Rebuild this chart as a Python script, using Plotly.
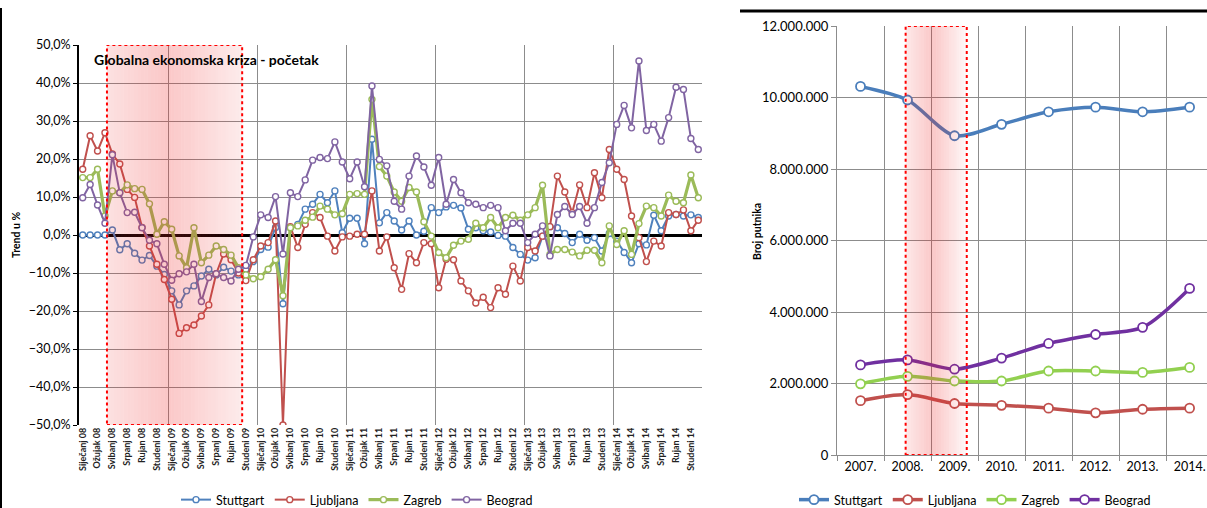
import plotly.graph_objects as go

# ---------------- DATA ----------------
month_names = ["Siječanj", "Veljača", "Ožujak", "Travanj", "Svibanj", "Lipanj",
               "Srpanj", "Kolovoz", "Rujan", "Listopad", "Studeni", "Prosinac"]
year_suffix = ["08", "09", "10", "11", "12", "13", "14"]
month_labels = [f"{m} {y}" for y in year_suffix for m in month_names]

stuttgart_trend = [
    0, 0, 0, 0, 1.3, -3.9, -2.3, -4.8, -6.6, -5.4, -8.2, -10.4,
    -14.7, -18.4, -14.7, -13.4, -10.8, -9.0, -10.5, -8.5, -9.5, -10.5, -9.0, -7.0,
    -3.8, -3.2, 2.0, -18.1, 1.9, 2.8, 6.8, 8.1, 10.7, 8.5, 11.6, 0.6,
    4.4, 4.4, -2.3, 25.2, 3.2, 5.9, 3.7, 1.3, 3.7, 0.0, 1.0, 7.2,
    5.9, 7.4, 7.8, 7.1, 1.5, 1.9, 1.1, 0.8, -0.1, -0.3, -3.3, -5.1,
    -6.6, -6.0, -0.3, 2.2, 1.9, 0.4, -2.0, 0.2, -1.4, -0.7, -4.2, 0.4,
    -1.6, -4.6, -7.3, -2.3, -2.6, 5.2, 1.1, 5.0, 5.4, 5.0, 5.3, 4.6,
]
ljubljana_trend = [
    17.3, 26.1, 22.1, 26.9, 21.3, 18.7, 12.0, 9.9, 2.0, -2.9, -7.7, -11.7,
    -16.9, -25.9, -24.4, -23.7, -21.3, -18.4, -10.2, -5.0, -6.5, -10.0, -12.0, -6.5,
    -2.9, -2.0, 3.7, -50.0, 2.2, -3.3, 2.8, 5.9, 4.6, -0.3, -4.2, -0.5,
    -0.3, 0.2, 0.2, 11.6, -4.2, -0.5, -8.6, -14.3, -4.9, -7.3, -2.0, -2.3,
    -13.9, -6.4, -6.5, -12.1, -14.7, -17.9, -16.4, -19.1, -13.9, -15.6, -8.2, -12.1,
    -3.3, -4.2, -0.3, 2.2, 15.5, 11.3, 5.9, 13.2, 7.2, 16.4, 9.8, 22.5,
    17.3, 14.6, 5.0, -0.7, -7.0, -1.6, -2.9, 5.9, 5.4, 6.6, 1.1, 3.9,
]
zagreb_trend = [
    15.1, 15.1, 17.3, 5.0, 11.6, 11.1, 13.2, 12.2, 12.0, 8.2, 0.2, 3.5,
    1.5, -5.5, -8.6, 1.9, -7.3, -5.3, -2.9, -3.8, -5.3, -8.6, -10.5, -11.5,
    -11.0, -9.0, -6.5, -16.0, 1.9, 2.4, 3.9, 4.7, 7.6, 6.8, 5.3, 5.6,
    10.7, 10.9, 10.7, 35.7, 18.0, 15.5, 11.3, 8.9, 12.5, 11.3, 3.5, -0.3,
    -4.6, -6.0, -2.7, -1.6, -1.1, 3.1, 1.9, 4.6, 1.9, 4.6, 5.2, 3.9,
    5.3, 7.2, 13.1, -5.1, -3.8, -3.8, -4.5, -5.5, -4.0, -4.0, -7.3, 2.4,
    -2.5, 1.1, -5.1, 3.0, 7.6, 7.2, 5.0, 10.5, 8.9, 8.5, 15.8, 9.8,
]
beograd_trend = [
    9.8, 13.3, 7.9, 3.1, 21.1, 11.1, 5.9, 6.0, 1.9, -1.4, -2.3, -7.7,
    -11.9, -10.2, -9.7, -7.7, -17.5, -11.2, -10.2, -11.2, -12.1, -9.0, -8.0, -0.5,
    5.3, 4.6, 10.1, -5.0, 11.1, 10.1, 14.5, 19.7, 20.4, 20.1, 24.5, 19.2,
    14.8, 19.2, 12.7, 39.2, 19.9, 18.2, 8.9, 6.8, 15.5, 20.8, 17.9, 13.1,
    20.4, 8.1, 14.6, 11.1, 8.5, 8.1, 7.2, 7.8, 7.2, 1.1, 3.1, 3.1,
    -2.0, 0.2, 2.4, -5.5, 5.4, 7.5, 5.4, 7.5, 3.1, 7.2, 13.8, 19.0,
    29.1, 34.1, 28.2, 45.8, 27.5, 29.1, 24.7, 30.9, 38.9, 38.3, 25.4, 22.5,
]

year_labels = ["2007.", "2008.", "2009.", "2010.", "2011.", "2012.", "2013.", "2014."]
stuttgart_pax = [10310000, 9930000, 8930000, 9250000, 9600000, 9730000, 9600000, 9730000]
ljubljana_pax = [1520000, 1690000, 1440000, 1390000, 1310000, 1180000, 1280000, 1310000]
zagreb_pax = [1990000, 2200000, 2070000, 2070000, 2350000, 2350000, 2310000, 2450000]
beograd_pax = [2520000, 2660000, 2400000, 2710000, 3120000, 3370000, 3570000, 4660000]

series_names = ["Stuttgart", "Ljubljana", "Zagreb", "Beograd"]

# crisis period (in axis units: month index / year index)
crisis_months = (3.27, 21.5)
crisis_years = (0.96, 2.26)

# ---------------- STYLE ----------------
W, H = 1207, 508
left_colors = ["#4F81BD", "#C0504D", "#9BBB59", "#8064A2"]
left_widths = [2, 2, 3.2, 2]
right_colors = ["#4A7EBB", "#C0504D", "#92D050", "#7030A0"]
GRID = "#8C8C8C"
FONT = "Lato, Carlito, Calibri, Arial, sans-serif"

fig = go.Figure()

x_months = list(range(len(month_labels)))
for name, vals, col, w in zip(series_names,
                              [stuttgart_trend, ljubljana_trend, zagreb_trend, beograd_trend],
                              left_colors, left_widths):
    fig.add_trace(go.Scatter(
        x=x_months, y=vals, mode="lines+markers", name=name,
        line=dict(color=col, width=w),
        marker=dict(symbol="circle", size=6, color="white", line=dict(color=col, width=1.4)),
        xaxis="x", yaxis="y", legend="legend", cliponaxis=True,
    ))

x_years = list(range(len(year_labels)))
for name, vals, col in zip(series_names,
                           [stuttgart_pax, ljubljana_pax, zagreb_pax, beograd_pax],
                           right_colors):
    fig.add_trace(go.Scatter(
        x=x_years, y=vals, mode="lines+markers", name=name,
        line=dict(color=col, width=3.5, shape="spline", smoothing=0.8),
        marker=dict(symbol="circle", size=9, color="white", line=dict(color=col, width=1.8)),
        xaxis="x2", yaxis="y2", legend="legend2",
    ))

shapes = []


def gradient_band(x0, x1, y0, y1, xref, yref, n, peak_pos, a_left, a_peak, a_right):
    step = (x1 - x0) / n
    for k in range(n):
        t = (k + 0.5) / n
        if t < peak_pos:
            a = a_left + (a_peak - a_left) * t / peak_pos
        else:
            a = a_peak + (a_right - a_peak) * (t - peak_pos) / (1 - peak_pos)
        shapes.append(dict(type="rect", xref=xref, yref=yref,
                           x0=x0 + k * step, x1=x0 + (k + 1) * step, y0=y0, y1=y1,
                           fillcolor=f"rgba(238,40,40,{a:.3f})", line=dict(width=0),
                           layer="above"))
    shapes.append(dict(type="rect", xref=xref, yref=yref, x0=x0, x1=x1, y0=y0, y1=y1,
                       fillcolor="rgba(0,0,0,0)",
                       line=dict(color="#FF0000", width=2, dash="dot"), layer="above"))


gradient_band(crisis_months[0], crisis_months[1], -50, 50, "x", "y", 40, 0.45, 0.14, 0.26, 0.09)
gradient_band(crisis_years[0], crisis_years[1], 0, 12000000, "x2", "y2", 24, 0.45, 0.10, 0.26, 0.03)

# outer frame lines of the two pictures
shapes.append(dict(type="line", xref="paper", yref="paper", x0=1 / W, x1=1 / W, y0=0, y1=1 - 8 / H,
                   line=dict(color="black", width=2)))
shapes.append(dict(type="line", xref="paper", yref="paper", x0=740 / W, x1=1, y0=1 - 11 / H, y1=1 - 11 / H,
                   line=dict(color="black", width=3)))

fig.update_layout(
    width=W, height=H,
    margin=dict(l=0, r=0, t=0, b=0, autoexpand=False),
    paper_bgcolor="white", plot_bgcolor="rgba(0,0,0,0)",
    separators=",.",
    font=dict(family=FONT, size=11, color="black"),
    shapes=shapes,
    xaxis=dict(
        domain=[79 / W, 702 / W], range=[-0.5, 83.5], anchor="y", automargin=False,
        tickmode="array", tickvals=x_months[::2], ticktext=[f"<b>{t}</b>" for t in month_labels[::2]],
        tickangle=-90, tickfont=dict(size=9, family=FONT, color="#222"),
        showgrid=False, zeroline=False, showline=False, ticks="",
        minor=dict(tickmode="linear", tick0=-0.5, dtick=12, showgrid=True,
                   gridcolor=GRID, gridwidth=1, ticks=""),
    ),
    yaxis=dict(
        domain=[1 - 425 / H, 1 - 45 / H], range=[-50, 50], anchor="x", automargin=False,
        dtick=10, tickformat=".1f", ticksuffix="%", tickfont=dict(size=12.5),
        showgrid=True, gridcolor=GRID, gridwidth=1,
        zeroline=True, zerolinecolor="black", zerolinewidth=2.5,
        showline=True, linecolor="black", linewidth=2,
        ticks="outside", ticklen=4, tickcolor="black",
    ),
    xaxis2=dict(
        domain=[837 / W, 1], range=[-0.5, 7.37], anchor="y2", automargin=False,
        tickmode="array", tickvals=x_years, ticktext=year_labels, tickfont=dict(size=12.5),
        showgrid=False, zeroline=False, showline=True, linecolor=GRID, ticks="",
        minor=dict(tickmode="linear", tick0=-0.5, dtick=1, showgrid=True,
                   gridcolor=GRID, gridwidth=1, ticks="outside", ticklen=5, tickcolor=GRID),
    ),
    yaxis2=dict(
        domain=[1 - 455 / H, 1 - 26 / H], range=[0, 12000000], anchor="x2", automargin=False,
        dtick=2000000, tickformat=",d", tickfont=dict(size=13),
        showgrid=True, gridcolor=GRID, gridwidth=1, zeroline=False,
        showline=True, linecolor=GRID, ticks="outside", ticklen=5, tickcolor=GRID,
    ),
    legend=dict(orientation="h", x=357 / W, xanchor="center", y=1 - 500 / H, yanchor="middle",
                font=dict(size=12.5), bgcolor="rgba(0,0,0,0)", itemwidth=30, tracegroupgap=0),
    legend2=dict(orientation="h", x=975 / W, xanchor="center", y=1 - 500 / H, yanchor="middle",
                 font=dict(size=12.5), bgcolor="rgba(0,0,0,0)", itemwidth=30, tracegroupgap=0),
    annotations=[
        dict(text="<b>Globalna ekonomska kriza - početak</b>", xref="paper", yref="paper",
             x=92 / W, y=1 - 59 / H, xanchor="left", yanchor="middle", showarrow=False,
             font=dict(size=14)),
        dict(text="<b>Trend u %</b>", xref="paper", yref="paper", x=16 / W, y=1 - 235 / H,
             xanchor="center", yanchor="middle", textangle=-90, showarrow=False,
             font=dict(size=10.5)),
        dict(text="<b>Broj putnika</b>", xref="paper", yref="paper", x=757 / W, y=1 - 232 / H,
             xanchor="center", yanchor="middle", textangle=-90, showarrow=False,
             font=dict(size=10.5)),
    ],
)

fig.write_html("out.html", config={"displayModeBar": False},
               post_script="document.body.style.margin='0px';document.body.style.overflow='hidden';")
